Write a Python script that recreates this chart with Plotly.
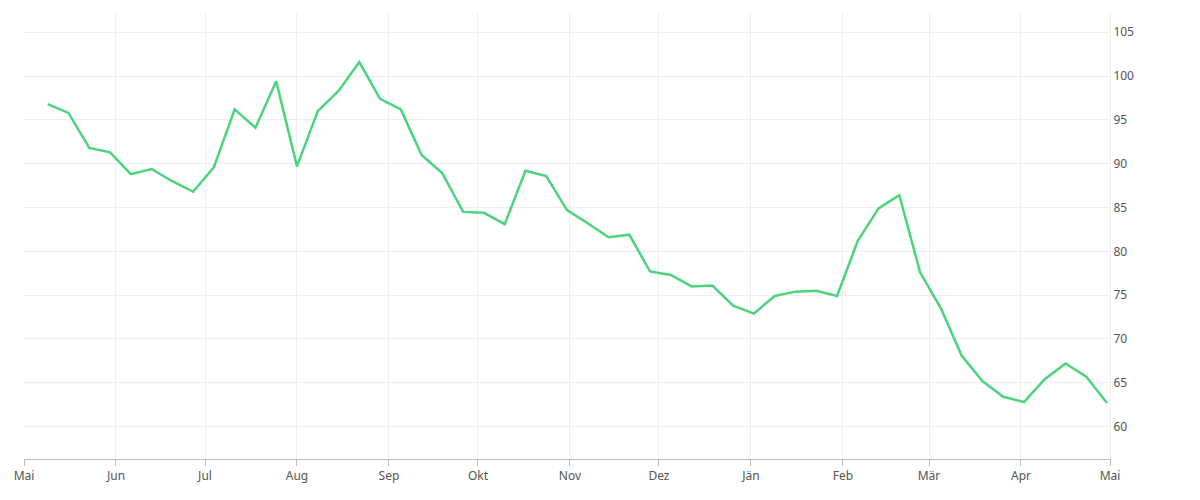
import plotly.graph_objects as go
import pandas as pd

values = [96.8, 95.8, 91.8, 91.3, 88.8, 89.4, 88.0, 86.8, 89.6, 96.2, 94.1, 99.4, 89.7, 96.0, 98.3, 101.6,
          97.4, 96.2, 91.0, 88.9, 84.5, 84.4, 83.1, 89.2, 88.6, 84.7, 83.2, 81.6, 81.9, 77.7, 77.3, 76.0,
          76.1, 73.8, 72.9, 74.9, 75.4, 75.5, 74.9, 81.2, 84.9, 86.4, 77.6, 73.5, 68.1, 65.2, 63.4, 62.8,
          65.4, 67.2, 65.7, 62.7]
dates = pd.date_range(end="2024-04-30", periods=len(values), freq="7D")
tick_dates = pd.date_range("2023-05-01", "2024-05-01", freq="MS")
tick_labels = ["Mai", "Jun", "Jul", "Aug", "Sep", "Okt", "Nov", "Dez", "Jän", "Feb", "Mär", "Apr", "Mai"]

fig = go.Figure(go.Scatter(x=dates, y=values, mode="lines",
                           line=dict(color="#4cd47c", width=2.5)))
fig.update_layout(
    width=1200, height=500, margin=dict(l=16, r=98, t=5, b=49, autoexpand=False),
    paper_bgcolor="white", plot_bgcolor="white", showlegend=False,
    font=dict(family="Noto Sans", size=12, color="#555"),
)
fig.update_xaxes(range=["2023-05-01", "2024-05-01"], tickvals=tick_dates, ticktext=tick_labels,
                 showgrid=True, gridcolor="#eeeeee", showline=True, linecolor="#bbbbbb",
                 ticks="outside", tickcolor="#bbbbbb", ticklen=6, automargin=False)
fig.update_yaxes(range=[56.3, 107.2], side="right", tickvals=list(range(60, 106, 5)),
                 showgrid=True, gridcolor="#eeeeee", zeroline=False, automargin=False,
                 showline=True, linecolor="#eeeeee")
fig.write_html("out.html")
